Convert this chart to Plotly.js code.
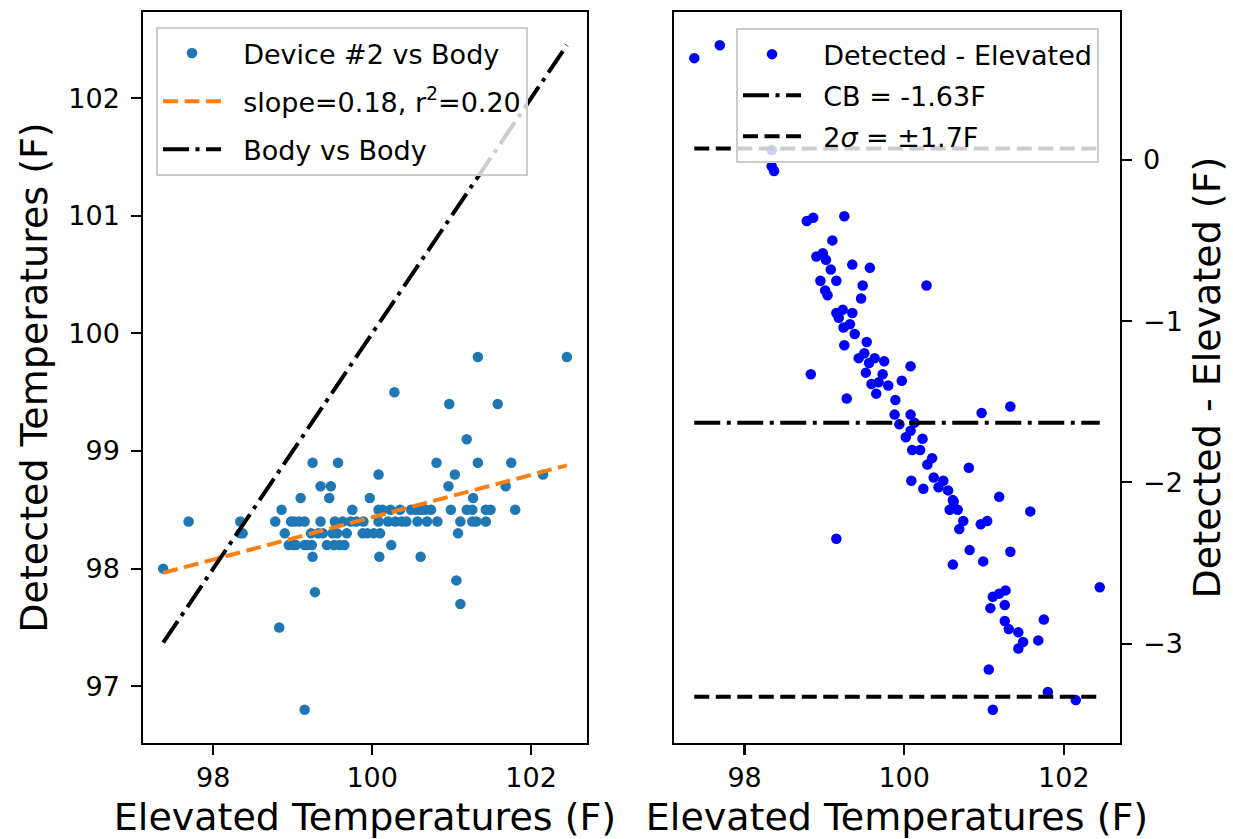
<!DOCTYPE html>
<html>
<head>
<meta charset="utf-8">
<script src="https://cdn.plot.ly/plotly-3.0.1.min.js"></script>
<style>
  html, body { margin: 0; padding: 0; background: #ffffff; }
  #chart { width: 1233px; height: 839px; }
</style>
</head>
<body>
<div id="chart"></div>
<script>
// Elevated (reference body) temperatures and the matching device readings, in °F
const elevated = [
  97.37, 97.69, 98.34, 98.34, 98.37, 98.78, 98.86, 99.25, 99.10, 98.90,
  98.98, 99.02, 99.35, 99.57, 99.08, 98.95, 99.15, 99.48, 99.01, 99.04,
  99.46, 100.28, 99.15, 99.23, 99.35, 99.18, 99.24, 99.32, 99.38, 99.25,
  99.53, 99.43, 99.50, 99.56, 99.63, 99.75, 100.08, 98.83, 99.52, 99.73,
  99.97, 99.59, 99.68, 99.80, 99.65, 99.28, 99.89, 99.88, 100.08, 100.13,
  99.94, 100.08, 100.23, 100.02, 100.10, 100.20, 100.35, 100.29, 100.81, 100.97,
  101.33, 100.37, 100.49, 100.43, 100.09, 100.24, 100.55, 100.62, 100.57, 100.67,
  100.61, 101.19, 101.58, 100.74, 100.69, 100.96, 101.04, 100.82, 101.33, 100.61,
  100.99, 99.15, 102.45, 101.19, 101.27, 101.11, 101.26, 101.08, 101.26, 101.31,
  101.43, 101.49, 101.43, 101.68, 101.75, 101.06, 101.80, 102.15, 101.11
];
const detected = [
  98.0, 98.4, 98.4, 98.3, 98.3, 98.4, 98.5, 98.9, 98.6, 98.3,
  98.4, 98.4, 98.7, 98.9, 98.4, 98.2, 98.4, 98.7, 98.2, 98.2,
  98.6, 99.5, 98.2, 98.3, 98.4, 98.2, 98.2, 98.3, 98.3, 98.1,
  98.4, 98.2, 98.3, 98.3, 98.4, 98.5, 98.8, 97.5, 98.2, 98.4,
  98.6, 98.2, 98.3, 98.4, 98.2, 97.8, 98.4, 98.3, 98.5, 98.5,
  98.3, 98.4, 98.5, 98.3, 98.3, 98.4, 98.5, 98.4, 98.9, 99.4,
  99.8, 98.4, 98.5, 98.4, 98.1, 98.2, 98.5, 98.5, 98.4, 98.5,
  98.5, 99.1, 99.4, 98.5, 98.4, 98.7, 98.8, 98.4, 98.9, 98.1,
  98.5, 96.8, 99.8, 98.5, 98.6, 98.4, 98.5, 98.3, 98.4, 98.4,
  98.5, 98.5, 98.4, 98.7, 98.9, 97.9, 98.5, 98.8, 97.7
];

// Fit and agreement statistics shown in the legends
const fitSlope = 0.18;
const fitR2 = 0.20;
const bias = -1.63;      // CB, mean of detected - elevated
const twoSigma = 1.7;    // limits of agreement half-width

// Tick labels
const xTicks = [98, 100, 102];
const leftYTicks = [97, 98, 99, 100, 101, 102];
const rightYTicks = [-3, -2, -1, 0];
const rightYTickText = ['\u22123', '\u22122', '\u22121', '0'];

// ---- derived series ----
const diffs = detected.map((d, i) => +(d - elevated[i]).toFixed(2));
const mean = a => a.reduce((s, v) => s + v, 0) / a.length;
const xMin = Math.min(...elevated);
const xMax = Math.max(...elevated);
const fitIntercept = mean(detected) - fitSlope * mean(elevated);
const fitLine = x => fitIntercept + fitSlope * x;

function padded(lo, hi) {
  const m = 0.05 * (hi - lo);
  return [lo - m, hi + m];
}
const xRange = padded(xMin, xMax);
const leftYRange = padded(Math.min(...detected, xMin), Math.max(...detected, xMax));
const rightYRange = padded(Math.min(...diffs, bias - twoSigma), Math.max(...diffs, bias + twoSigma));

const FONT = 'DejaVu Sans, Liberation Sans, sans-serif';
const LW = 4;
const DASHED = '15px,6.5px';
const DASHDOT = '26px,6.5px,4px,6.5px';
const GAP = '\u00a0\u00a0';   // extra room between legend handle and label

const traces = [
  {
    x: elevated, y: detected, type: 'scatter', mode: 'markers',
    name: GAP + 'Device #2 vs Body',
    marker: { color: '#1f77b4', size: 10.5 },
    xaxis: 'x', yaxis: 'y', legend: 'legend', legendgroup: 'g1'
  },
  {
    x: [xMin, xMax], y: [fitLine(xMin), fitLine(xMax)], type: 'scatter', mode: 'lines',
    name: GAP + 'slope=' + fitSlope.toFixed(2) + ', r<sup>2</sup>=' + fitR2.toFixed(2),
    line: { color: '#ff7f0e', width: LW, dash: DASHED },
    xaxis: 'x', yaxis: 'y', legend: 'legend', legendgroup: 'g2'
  },
  {
    x: [xMin, xMax], y: [xMin, xMax], type: 'scatter', mode: 'lines',
    name: GAP + 'Body vs Body',
    line: { color: '#000000', width: LW, dash: DASHDOT },
    xaxis: 'x', yaxis: 'y', legend: 'legend', legendgroup: 'g3'
  },
  {
    x: elevated, y: diffs, type: 'scatter', mode: 'markers',
    name: GAP + 'Detected - Elevated',
    marker: { color: '#0000ff', size: 10.5 },
    xaxis: 'x2', yaxis: 'y2', legend: 'legend2', legendgroup: 'h1'
  },
  {
    x: [xMin, xMax], y: [bias, bias], type: 'scatter', mode: 'lines',
    name: GAP + 'CB = ' + bias.toFixed(2) + 'F',
    line: { color: '#000000', width: LW, dash: DASHDOT },
    xaxis: 'x2', yaxis: 'y2', legend: 'legend2', legendgroup: 'h2'
  },
  {
    x: [xMin, xMax, null, xMin, xMax],
    y: [bias + twoSigma, bias + twoSigma, null, bias - twoSigma, bias - twoSigma],
    type: 'scatter', mode: 'lines', connectgaps: false,
    name: GAP + '2<i>\u03c3</i> = \u00b1' + twoSigma.toFixed(1) + 'F',
    line: { color: '#000000', width: LW, dash: DASHED },
    xaxis: 'x2', yaxis: 'y2', legend: 'legend2', legendgroup: 'h3'
  }
];

const axisCommon = {
  showgrid: false, zeroline: false,
  showline: true, mirror: true, linecolor: '#000000', linewidth: 2.2,
  ticks: 'outside', ticklen: 9.5, tickwidth: 2.2, tickcolor: '#000000',
  tickfont: { family: FONT, size: 27, color: '#000000' }
};
const titleFont = { family: FONT, size: 38, color: '#000000' };

const legendCommon = {
  bgcolor: 'rgba(255,255,255,0.8)', bordercolor: '#cccccc', borderwidth: 2,
  font: { family: FONT, size: 27, color: '#000000' },
  xanchor: 'left', yanchor: 'top', itemwidth: 58,
  traceorder: 'grouped'
};

const layout = {
  width: 1233, height: 839,
  margin: { l: 143, r: 113, t: 12, b: 96 },
  paper_bgcolor: '#ffffff', plot_bgcolor: '#ffffff',
  font: { family: FONT, color: '#000000' },
  xaxis: Object.assign({}, axisCommon, {
    domain: [0, 0.4545], anchor: 'y', range: xRange,
    tickvals: xTicks, ticktext: xTicks.map(String), ticklabelstandoff: 0,
    title: { text: 'Elevated Temperatures (F)', font: titleFont, standoff: 16 }
  }),
  yaxis: Object.assign({}, axisCommon, {
    domain: [0, 1], anchor: 'x', range: leftYRange,
    tickvals: leftYTicks, ticktext: leftYTicks.map(String), ticklabelstandoff: 6,
    title: { text: 'Detected Temperatures (F)', font: titleFont, standoff: 9 }
  }),
  xaxis2: Object.assign({}, axisCommon, {
    domain: [0.5435, 1], anchor: 'y2', range: xRange,
    tickvals: xTicks, ticktext: xTicks.map(String), ticklabelstandoff: 0,
    title: { text: 'Elevated Temperatures (F)', font: titleFont, standoff: 16 }
  }),
  yaxis2: Object.assign({}, axisCommon, {
    domain: [0, 1], anchor: 'x2', side: 'right', range: rightYRange,
    tickvals: rightYTicks, ticktext: rightYTickText, ticklabelstandoff: 6,
    title: { text: 'Detected - Elevated (F)', font: titleFont, standoff: 12 }
  }),
  legend: Object.assign({}, legendCommon, { x: 0.0133, y: 0.9795, tracegroupgap: 10 }),
  legend2: Object.assign({}, legendCommon, { x: 0.607, y: 0.978, tracegroupgap: 3 }),
  showlegend: true
};

Plotly.newPlot('chart', traces, layout, { staticPlot: true, displayModeBar: false });
</script>
</body>
</html>
